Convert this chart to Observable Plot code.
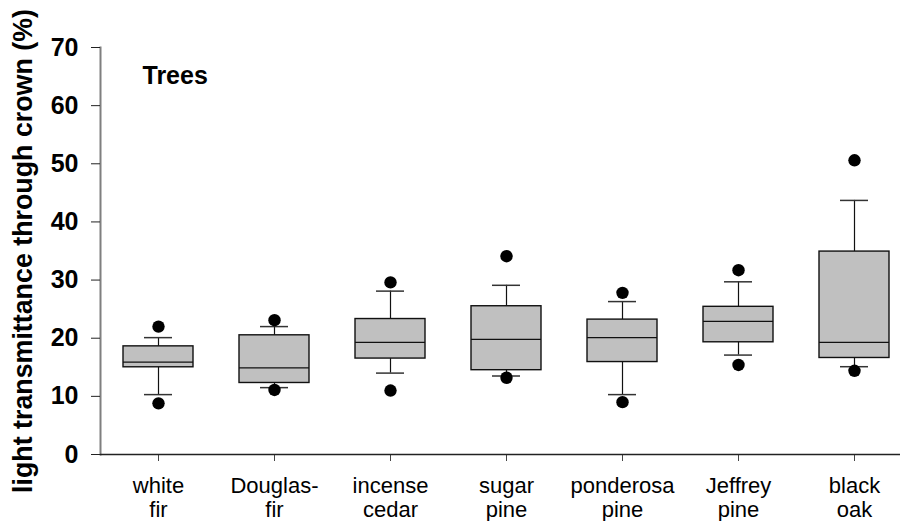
<!DOCTYPE html>
<html><head><meta charset="utf-8">
<script src="https://cdn.jsdelivr.net/npm/d3@7"></script>
<script src="https://cdn.jsdelivr.net/npm/@observablehq/plot@0.6"></script>
<style>html,body{margin:0;padding:0;background:#fff;overflow:hidden} svg{display:block}</style>
</head><body><div id="chart"></div>
<script>
const species = ["white fir","Douglas-fir","incense cedar","sugar pine","ponderosa pine","Jeffrey pine","black oak"];
const tickLabels = ["white\nfir","Douglas-\nfir","incense\ncedar","sugar\npine","ponderosa\npine","Jeffrey\npine","black\noak"];
const outlierHigh = [22.0, 23.1, 29.6, 34.1, 27.8, 31.7, 50.6];
const whiskerHigh = [20.1, 22.0, 28.1, 29.1, 26.3, 29.7, 43.7];
const q3 = [18.6, 20.5, 23.3, 25.5, 23.2, 25.4, 34.9];
const median = [15.9, 14.9, 19.3, 19.8, 20.1, 22.9, 19.3];
const q1 = [15.0, 12.3, 16.5, 14.5, 15.9, 19.3, 16.6];
const whiskerLow = [10.3, 11.5, 14.0, 13.5, 10.3, 17.1, 15.1];
const outlierLow = [8.8, 11.1, 11.0, 13.2, 9.0, 15.4, 14.4];
const yTicks = [0, 10, 20, 30, 40, 50, 60, 70];
const yTitle = "light transmittance through crown (%)";
const panelLabel = "Trees";

const rows = species.map((s, i) => ({
  species: s, label: tickLabels[i],
  oHi: outlierHigh[i], wHi: whiskerHigh[i], q3: q3[i], med: median[i],
  q1: q1[i], wLo: whiskerLow[i], oLo: outlierLow[i]
}));

const chart = Plot.plot({
  width: 900, height: 521,
  marginLeft: 100, marginRight: 0, marginTop: 47, marginBottom: 67,
  style: {fontFamily: "'Liberation Sans', Arial, sans-serif", background: "white", color: "black"},
  x: {domain: species, range: [100, 912], paddingInner: 0.4, paddingOuter: 0.2},
  y: {domain: [0, 70]},
  marks: [
    Plot.frame({anchor: "left", stroke: "#7f7f7f", strokeWidth: 2}),
    Plot.axisY({ticks: yTicks, tickSize: 9, tickPadding: 13, fontSize: 25, fontWeight: "bold", label: null, stroke: "#222"}),
    Plot.axisX({tickSize: 7, tickPadding: 14, tickFormat: d => tickLabels[species.indexOf(d)], fontSize: 22, lineHeight: 1.09, label: null, stroke: "#444"}),
    Plot.ruleY([0], {stroke: "#222", strokeWidth: 1.5}),
    Plot.ruleX(rows, {x: "species", y1: "q3", y2: "wHi", stroke: "#111", strokeWidth: 1.2}),
    Plot.ruleX(rows, {x: "species", y1: "q1", y2: "wLo", stroke: "#111", strokeWidth: 1.2}),
    Plot.tickY(rows, {x: "species", y: "wHi", inset: 21, stroke: "#333", strokeWidth: 1.5}),
    Plot.tickY(rows, {x: "species", y: "wLo", inset: 21, stroke: "#333", strokeWidth: 1.5}),
    Plot.barY(rows, {x: "species", y1: "q1", y2: "q3", fill: "#c0c0c0", stroke: "#111", strokeWidth: 1.4}),
    Plot.tickY(rows, {x: "species", y: "med", stroke: "#111", strokeWidth: 1.3}),
    Plot.dot(rows, {x: "species", y: "oHi", r: 6.2, fill: "black", stroke: "none"}),
    Plot.dot(rows, {x: "species", y: "oLo", r: 6.2, fill: "black", stroke: "none"}),
    Plot.text([panelLabel], {frameAnchor: "top-left", dx: 42, dy: 28, textAnchor: "start", lineAnchor: "middle", fontSize: 25, fontWeight: "bold"}),
    Plot.text([yTitle], {frameAnchor: "left", dx: -77, dy: 0, rotate: -90, textAnchor: "middle", lineAnchor: "middle", fontSize: 26.8, fontWeight: "bold"})
  ]
});
document.getElementById("chart").append(chart);
</script>
</body></html>
